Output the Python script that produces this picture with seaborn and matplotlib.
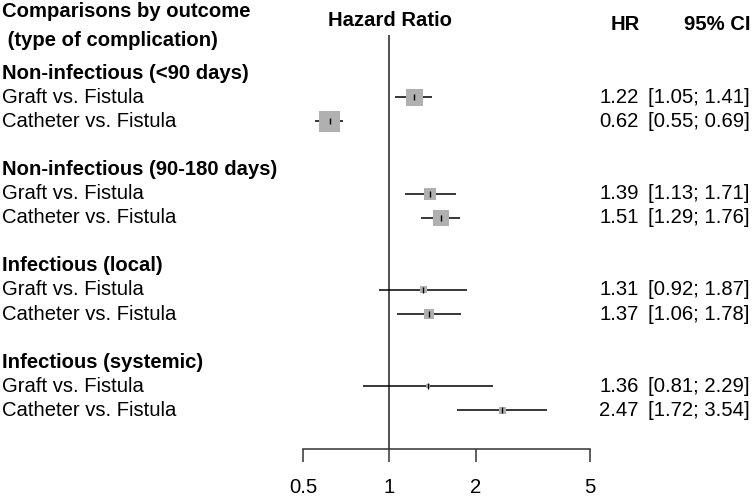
import matplotlib
matplotlib.use("Agg")
import matplotlib.pyplot as plt
import matplotlib.transforms as mtransforms
import numpy as np
import pandas as pd
import seaborn as sns

# forest plot data
groups = ["Non-infectious (<90 days)", "Non-infectious (90-180 days)",
          "Infectious (local)", "Infectious (systemic)"]
comparisons = ["Graft vs. Fistula", "Catheter vs. Fistula"]
hr = [1.22, 0.62, 1.39, 1.51, 1.31, 1.37, 1.36, 2.47]
ci_low = [1.05, 0.55, 1.13, 1.29, 0.92, 1.06, 0.81, 1.72]
ci_high = [1.41, 0.69, 1.71, 1.76, 1.87, 1.78, 2.29, 3.54]
weight = [21.5, 32.8, 10.7, 19.0, 3.6, 7.4, 1.2, 3.6]
xticks = [0.5, 1, 2, 5]

sns.set_theme(style="white")
plt.rcParams["font.family"] = ["Liberation Sans", "DejaVu Sans"]
plt.rcParams["text.color"] = "black"
plt.rcParams["xtick.color"] = "black"

# rows: group header then its two comparisons, blank line between groups
rows = []
for g in range(len(groups)):
    rows += [4 * g + 1, 4 * g + 2]
df = pd.DataFrame({"row": rows, "hr": hr, "lo": ci_low, "hi": ci_high, "w": weight})

W, H = 752, 496
fig = plt.figure(figsize=(W / 100, H / 100), dpi=100)
ax = fig.add_axes([303 / W, (H - 449) / H, 287 / W, 414 / H])

ax.hlines(df["row"], df["lo"], df["hi"], color="black", lw=1.1, zorder=2)
sns.scatterplot(data=df, x="hr", y="row", size="w", sizes=(8, 229), marker="s",
                color="#b0b0b0", edgecolor="none", legend=False, ax=ax, zorder=3)
ax.plot(df["hr"], df["row"], ls="none", marker="|", ms=5, mew=1.0, color="black", zorder=4)
ax.axvline(1, color="#222222", lw=1.1, zorder=1)

ax.set_xscale("log")
ax.set_xlim(0.5, 5)
ax.set_ylim(15.6, -1.58)
ax.set_xticks(xticks)
ax.set_xticklabels([str(t) for t in xticks])
ax.minorticks_off()
ax.set_yticks([])
ax.set_xlabel("")
ax.set_ylabel("")
for s in ["top", "right", "left"]:
    ax.spines[s].set_visible(False)
ax.spines["bottom"].set_color("#333333")
ax.spines["bottom"].set_linewidth(1.1)
ax.tick_params(axis="x", direction="out", length=9, width=1.1, color="#333333",
               pad=12, labelsize=14.6, labelcolor="black", bottom=True)

tr = mtransforms.blended_transform_factory(fig.transFigure, ax.transData)
fs = 14.6
ax.text(2 / W, -2.57, "Comparisons by outcome", transform=tr, fontsize=fs,
        fontweight="bold", va="center", ha="left", clip_on=False)
ax.text(2 / W, -1.37, " (type of complication)", transform=tr, fontsize=fs,
        fontweight="bold", va="center", ha="left", clip_on=False)
ax.text(390 / W, -2.2, "Hazard Ratio", transform=tr, fontsize=fs,
        fontweight="bold", va="center", ha="center", clip_on=False)
ax.text(640 / W, -2.0, "HR", transform=tr, fontsize=fs,
        fontweight="bold", va="center", ha="right", clip_on=False)
ax.text(750 / W, -2.0, "95% CI", transform=tr, fontsize=fs,
        fontweight="bold", va="center", ha="right", clip_on=False)

for g, name in enumerate(groups):
    ax.text(2 / W, 4 * g, name, transform=tr, fontsize=fs, fontweight="bold",
            va="center", ha="left", clip_on=False)
for i, r in df.iterrows():
    ax.text(2 / W, r["row"], comparisons[i % 2], transform=tr, fontsize=fs,
            va="center", ha="left", clip_on=False)
    ax.text(639 / W, r["row"], f"{r['hr']:.2f}", transform=tr, fontsize=fs,
            va="center", ha="right", clip_on=False)
    ax.text(750 / W, r["row"], f"[{r['lo']:.2f}; {r['hi']:.2f}]", transform=tr,
            fontsize=fs, va="center", ha="right", clip_on=False)

fig.savefig("out.png", dpi=100)
